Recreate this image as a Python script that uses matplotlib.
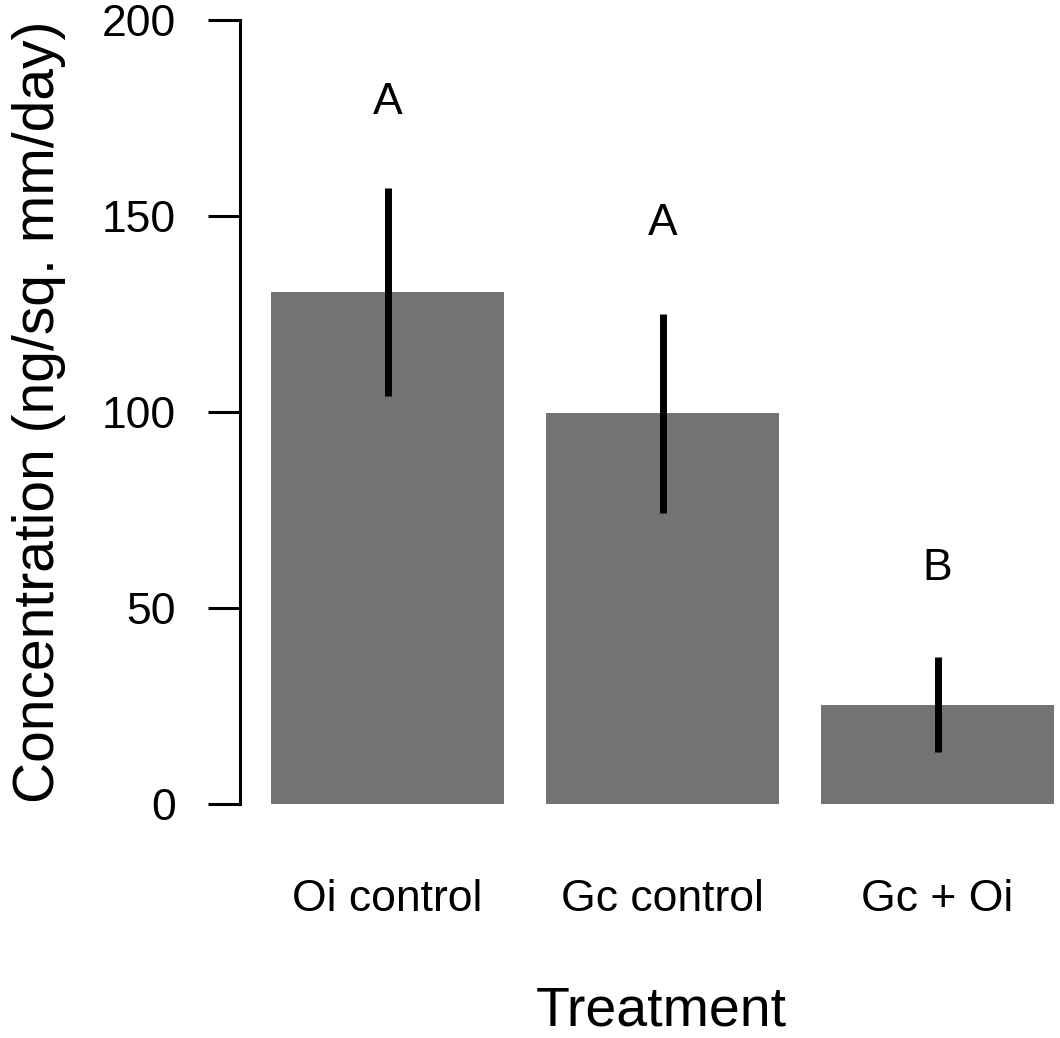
import matplotlib
matplotlib.use("Agg")
import matplotlib.pyplot as plt
import numpy as np

categories = ["Oi control", "Gc control", "Gc + Oi"]
means = [130.6, 99.7, 25.3]
se = [26.5, 25.4, 12.1]
letters = ["A", "A", "B"]
letter_y = [179, 148, 60]
yticks = [0, 50, 100, 150, 200]

plt.rcParams['font.family'] = ['Liberation Sans', 'DejaVu Sans']

W, H = 1060, 1038
fig = plt.figure(figsize=(W / 100, H / 100), dpi=100)
ax = fig.add_axes([240 / W, (H - 804) / H, (W - 240) / W, 784 / H])

x = np.arange(len(categories))
ax.bar(x, means, width=0.845, color="#737373", edgecolor="none", zorder=1)
ax.errorbar(x, means, yerr=se, fmt="none", ecolor="black", elinewidth=5, capsize=0, zorder=2)
for xi, lab, ly in zip(x, letters, letter_y):
    ax.text(xi, ly, lab, ha="center", va="center", fontsize=32)

ax.set_ylim(0, 200)
ax.set_xlim(-(387.5 - 240) / 275, (1060 - 387.5) / 275)
ax.set_yticks(yticks)
ax.set_yticklabels([str(t) for t in yticks])
ax.set_xticks(x)
ax.set_xticklabels(categories)

for s in ["top", "right", "bottom"]:
    ax.spines[s].set_visible(False)
ax.spines["left"].set_linewidth(2.2)
ax.spines["left"].set_bounds(0, 200)
ax.tick_params(axis="y", length=23, width=2.2, pad=23, labelsize=32)
ax.tick_params(axis="x", length=0, pad=54, labelsize=32)
ax.patch.set_visible(False)

fig.text(661 / W, (H - 1025) / H, "Treatment", ha="center", va="baseline", fontsize=40)
fig.text(54 / W, (H - 412) / H, "Concentration (ng/sq. mm/day)", rotation=90,
         rotation_mode="anchor", ha="center", va="baseline", fontsize=41)

fig.savefig("out.png", dpi=100)
